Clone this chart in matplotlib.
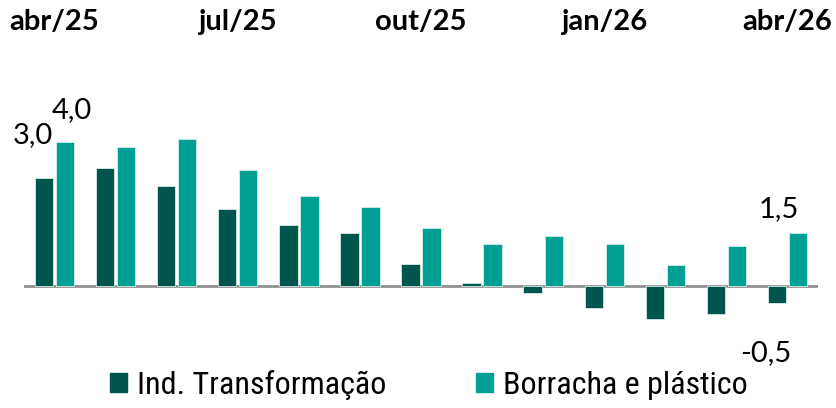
import matplotlib.pyplot as plt
import matplotlib.transforms as mtransforms
from matplotlib.patches import Patch
from matplotlib import font_manager
import numpy as np

# dados (variação %, abr/25 a abr/26)
meses = ['abr/25', 'mai/25', 'jun/25', 'jul/25', 'ago/25', 'set/25', 'out/25',
         'nov/25', 'dez/25', 'jan/26', 'fev/26', 'mar/26', 'abr/26']
ind_transformacao = [3.0, 3.28, 2.77, 2.12, 1.69, 1.48, 0.61, 0.08, -0.19, -0.62, -0.91, -0.77, -0.48]
borracha_plastico = [4.0, 3.86, 4.06, 3.2, 2.48, 2.2, 1.61, 1.17, 1.39, 1.17, 0.59, 1.12, 1.47]
meses_rotulo = [0, 3, 6, 9, 12]

cor_escura = '#00564d'
cor_clara = '#00a095'

# fonte estreita para a legenda, se houver
nomes = {f.name for f in font_manager.fontManager.ttflist}
estreitas = [n for n in ['Liberation Sans Narrow', 'DejaVu Sans Condensed', 'Roboto Condensed']
             if n in nomes]
fonte_legenda = estreitas + ['Liberation Sans']

fig = plt.figure(figsize=(8.37, 4.08), dpi=100)
ax = fig.add_axes([0.0287, 0.1912, 0.9486, 0.5637])

x = np.arange(len(meses))
largura = 0.3
desloc = 0.172
ax.bar(x - desloc, ind_transformacao, largura, color=cor_escura, edgecolor='#d8ece9', linewidth=0.6)
ax.bar(x + desloc, borracha_plastico, largura, color=cor_clara, edgecolor='#d8ece9', linewidth=0.6)

ax.set_xlim(-0.5, 12.5)
ax.set_ylim(-1.22, 5.15)
ax.axhline(0, color='#8c8c8c', linewidth=1.9, zorder=0)
for s in ax.spines.values():
    s.set_visible(False)
ax.set_xticks([])
ax.set_yticks([])

# rótulos dos meses no topo
trans = mtransforms.blended_transform_factory(ax.transData, fig.transFigure)
for i in meses_rotulo:
    ax.text(x[i], 0.945, meses[i], transform=trans, ha='center', va='center',
            fontsize=21, fontweight='bold', family=['Lato', 'DejaVu Sans'])

# rótulos de valores (primeiro e último mês)
def fmt(v):
    return f'{v:.1f}'.replace('.', ',')

rot = dict(fontsize=21, family=['Lato', 'DejaVu Sans'], ha='center', va='center',
           textcoords='offset points')
ax.annotate(fmt(ind_transformacao[0]), (x[0] - desloc, ind_transformacao[0]), xytext=(-8, 31), **rot)
ax.annotate(fmt(borracha_plastico[0]), (x[0] + desloc, borracha_plastico[0]), xytext=(5, 23), **rot)
ax.annotate(fmt(borracha_plastico[-1]), (x[-1] + desloc, borracha_plastico[-1]), xytext=(-14, 17), **rot)
ax.annotate(fmt(ind_transformacao[-1]), (x[-1] - desloc, ind_transformacao[-1]), xytext=(-8, -36), **rot)

handles = [Patch(color=cor_escura, label='Ind. Transformação'),
           Patch(color=cor_clara, label='Borracha e plástico')]
fig.legend(handles=handles, loc='center', bbox_to_anchor=(0.512, 0.057), ncol=2, frameon=False,
           prop={'family': fonte_legenda, 'size': 23},
           handlelength=0.55, handleheight=0.55, handletextpad=0.3, columnspacing=2.8)

fig.savefig('out.png', dpi=100)
